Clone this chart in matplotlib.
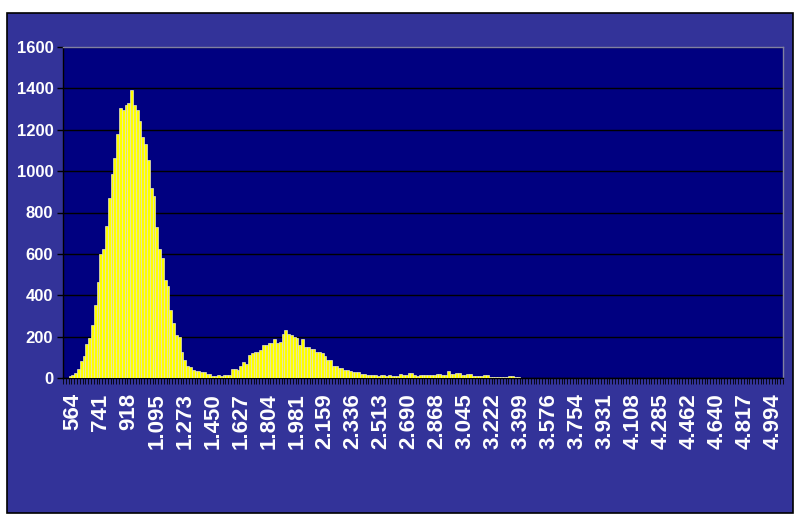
import matplotlib
matplotlib.use("Agg")
import matplotlib.pyplot as plt
from matplotlib.patches import Rectangle

# histogram counts, one per class (257 classes, labels on every 10th from class 3)
counts = [
    0, 0, 10, 16, 24, 43, 80, 104, 163, 192,
    256, 352, 464, 600, 624, 736, 872, 984, 1064, 1181,
    1304, 1296, 1320, 1330, 1392, 1320, 1296, 1240, 1163, 1131,
    1053, 920, 880, 728, 624, 579, 475, 443, 328, 264,
    210, 200, 128, 88, 60, 55, 40, 35, 35, 27,
    27, 21, 21, 11, 11, 16, 11, 16, 16, 16,
    45, 45, 37, 56, 77, 67, 112, 120, 128, 128,
    136, 160, 160, 171, 171, 187, 171, 176, 211, 232,
    211, 206, 200, 192, 160, 187, 152, 150, 139, 139,
    125, 125, 120, 107, 88, 85, 59, 56, 48, 48,
    40, 37, 35, 27, 27, 27, 21, 21, 13, 13,
    16, 16, 8, 16, 16, 10, 16, 10, 10, 10,
    21, 16, 16, 24, 24, 16, 8, 16, 16, 16,
    16, 16, 16, 21, 21, 16, 16, 32, 21, 21,
    24, 24, 16, 16, 21, 21, 10, 10, 8, 8,
    16, 16, 5, 5, 5, 5, 5, 5, 5, 8,
    8, 5, 5, 0, 0, 0, 0, 0, 0, 0,
    0, 0, 0, 0, 0, 0, 0, 0, 0, 0,
    0, 0, 0, 0, 0, 0, 0, 0, 0, 0,
    0, 0, 0, 0, 0, 0, 0, 0, 0, 0,
    0, 0, 0, 0, 0, 0, 0, 0, 0, 0,
    0, 0, 0, 0, 0, 0, 0, 0, 0, 0,
    0, 0, 0, 0, 0, 0, 0, 0, 0, 0,
    0, 0, 0, 0, 0, 0, 0, 0, 0, 0,
    0, 0, 0, 0, 0, 0, 0, 0, 0, 0,
    0, 0, 0, 0, 0, 0, 0,
]

x_labels = ["564", "741", "918", "1.095", "1.273", "1.450", "1.627", "1.804",
            "1.981", "2.159", "2.336", "2.513", "2.690", "2.868", "3.045",
            "3.222", "3.399", "3.576", "3.754", "3.931", "4.108", "4.285",
            "4.462", "4.640", "4.817", "4.994"]
first_label = 3
label_step = 10
y_ticks = [0, 200, 400, 600, 800, 1000, 1200, 1400, 1600]

plt.rcParams['font.family'] = ['Liberation Sans', 'DejaVu Sans']

fig = plt.figure(figsize=(8, 5.21), dpi=100)
fig.patch.set_facecolor('white')
# chart area box, behind the axes
box = Rectangle((7 / 800, 1 - 513 / 521), 786 / 800, 500 / 521,
                transform=fig.transFigure, facecolor='#333399',
                edgecolor='black', linewidth=1.2)
box.set_zorder(-10)
fig.add_artist(box)

ax = fig.add_axes([63 / 800, 1 - 378 / 521, 720 / 800, 331 / 521])
ax.set_zorder(1)
ax.set_facecolor('#000080')

n = len(counts)
pos = list(range(n))
ax.bar(pos, counts, width=1.0, color='#ffff00', edgecolor='#e8e8c8',
       linewidth=0.5, zorder=3)

ax.set_xlim(-0.5, n - 0.5)
ax.set_ylim(0, 1600)
ax.set_yticks(y_ticks)
ax.set_yticklabels([str(v) for v in y_ticks], color='white', fontsize=12,
                   fontweight='bold')
ax.yaxis.grid(True, color='black', linewidth=1.0, zorder=1)
ax.set_axisbelow(True)

lbl_pos = [first_label + label_step * k for k in range(len(x_labels))]
ax.set_xticks(lbl_pos)
ax.set_xticklabels(x_labels, rotation=90, color='white', fontsize=16,
                   fontweight='bold')
ax.set_xticks([i - 0.5 for i in range(n + 1)], minor=True)
ax.tick_params(axis='x', which='major', length=0, pad=11)
ax.tick_params(axis='x', which='minor', length=4, width=0.6, color='black',
               direction='out')
ax.tick_params(axis='y', length=4, width=1, color='black', pad=3)

ax.spines['top'].set_color('#8080a0')
ax.spines['right'].set_color('#8080a0')
ax.spines['left'].set_color('black')
ax.spines['bottom'].set_color('black')
for s in ax.spines.values():
    s.set_linewidth(1.0)

plt.savefig('out.png', dpi=100, facecolor=fig.get_facecolor())
